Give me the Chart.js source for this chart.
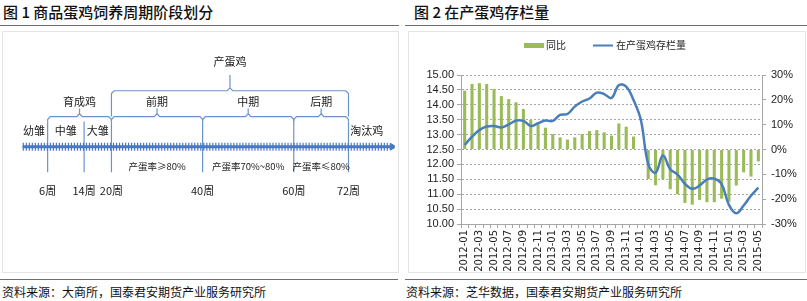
<!DOCTYPE html>
<html>
<head>
<meta charset="utf-8">
<script src="https://cdn.jsdelivr.net/npm/chart.js@4.4.1/dist/chart.umd.min.js"></script>
<style>
  body { margin: 0; width: 807px; height: 301px; position: relative; background: #fff; overflow: hidden; }
  .title { position: absolute; top: 4px; font: 500 15px/16px "Noto Sans CJK SC", sans-serif; color: #111; white-space: nowrap; }
  .rule { position: absolute; height: 0; border-top: 1.5px solid #6e6e6e; }
  .frame { position: absolute; border: 1px solid #e4e4e4; box-sizing: border-box; }
  .source { position: absolute; top: 285px; font: 12px/14px "Noto Sans CJK SC", sans-serif; color: #111; white-space: nowrap; }
  canvas { position: absolute; top: 30px; }
</style>
</head>
<body>
<div class="title" style="left:3px">图 1 商品蛋鸡饲养周期阶段划分</div>
<div class="title" style="left:414px">图 2 在产蛋鸡存栏量</div>
<div class="rule" style="left:0;width:399px;top:25px"></div>
<div class="rule" style="left:405px;width:402px;top:25px"></div>
<div class="frame" style="left:2px;top:31px;width:397px;height:242px"></div>
<div class="frame" style="left:408px;top:31px;width:398px;height:242px"></div>
<canvas id="cycleChart" width="400" height="245" style="left:0"></canvas>
<canvas id="stockChart" width="402" height="245" style="left:405px"></canvas>
<div class="rule" style="left:0;width:398px;top:279px"></div>
<div class="rule" style="left:405px;width:402px;top:279px"></div>
<div class="source" style="left:2px">资料来源：大商所，国泰君安期货产业服务研究所</div>
<div class="source" style="left:406px">资料来源：芝华数据，国泰君安期货产业服务研究所</div>

<script>
// ---- FIG 1 : feeding cycle stages (weeks) ----
const weekMarks = [6, 14, 20, 40, 60, 72];
const weekLabels = ['6周', '14周', '20周', '40周', '60周', '72周'];

const stageNames = ['幼雏', '中雏', '大雏', '淘汰鸡'];
const stageFrom = [0, 6, 14, 72];
const stageTo = [6, 14, 20, 80];

const braceNames = ['育成鸡', '前期', '中期', '后期', '产蛋鸡'];
const braceFrom = [6, 20, 40, 60, 20];
const braceTo = [20, 40, 60, 72, 72];
const braceTier = [1, 1, 1, 1, 2];

const rateNames = ['产蛋率≥80%', '产蛋率70%~80%', '产蛋率≤80%'];
const rateFrom = [20, 40, 60];
const rateTo = [40, 60, 72];

// ---- FIG 2 : laying hen stock ----
const months = ['2012-01','2012-02','2012-03','2012-04','2012-05','2012-06','2012-07','2012-08','2012-09','2012-10','2012-11','2012-12',
  '2013-01','2013-02','2013-03','2013-04','2013-05','2013-06','2013-07','2013-08','2013-09','2013-10','2013-11','2013-12',
  '2014-01','2014-02','2014-03','2014-04','2014-05','2014-06','2014-07','2014-08','2014-09','2014-10','2014-11','2014-12',
  '2015-01','2015-02','2015-03','2015-04','2015-05'];
const stockValues = [12.65, 12.93, 13.15, 13.27, 13.29, 13.24, 13.34, 13.47, 13.46, 13.29, 13.38, 13.47,
  13.46, 13.66, 13.69, 13.94, 14.11, 14.21, 14.41, 14.36, 14.23, 14.66, 14.61, 14.16,
  13.49, 12.01, 11.72, 12.30, 11.84, 11.66, 11.35, 11.18, 11.29, 11.49, 11.52, 11.34,
  10.64, 10.36, 10.62, 10.95, 11.22];
const yoyValues = [23.7, 26.4, 26.7, 26.4, 24.4, 21.5, 20.3, 19.0, 16.3, 11.9, 10.1, 8.8,
  6.2, 4.9, 4.0, 4.9, 6.2, 7.4, 7.8, 6.9, 5.6, 10.5, 9.2, 5.2,
  null, -11.9, -14.4, -11.9, -16.0, -18.0, -21.5, -22.2, -20.3, -21.2, -21.2, -19.8,
  -21.0, -14.5, -9.2, -10.9, -4.8];
const leftTicks = [10, 15, 0.5];
const rightTicks = [-30, 30, 10];

// colours / layout
const AXIS_BLUE = '#4a78c0';
const BRACE_BLUE = '#6a93cc';
const GREEN = '#9bbb59';
const LINE_BLUE = '#4a7ebb';
const GRID = '#a6a6a6';
const TXT = '#1a1a1a';
const CJK = '"Noto Sans CJK SC", sans-serif';

// vertical levels of the diagram (1 unit ~ 10px, timeline at 0)
const LV = {
  tier1: 3.15, tier2: 5.85, tip1: 0.85, tip2: 1.65, leg1: 0.5, leg2: 2.7,
  lineTop: 2.65, lineBottom: -2.65,
  stageText: 1.7, tier1Text: 4.65, tier2Text: 8.85, rateText: -2.05, weekText: -4.65
};

function bracePoints(a, b, L, h, d) {
  const m = (a + b) / 2;
  return [
    {x: a, y: L - d}, {x: a, y: L - 0.3}, {x: a + 0.6, y: L},
    {x: m - 0.6, y: L}, {x: m, y: L + 0.3}, {x: m, y: L + h},
    {x: m, y: L + 0.3}, {x: m + 0.6, y: L},
    {x: b - 0.6, y: L}, {x: b, y: L - 0.3}, {x: b, y: L - d}
  ];
}

const cycleSets = [];
// timeline
cycleSets.push({type: 'line', data: [{x: 0.5, y: 0}, {x: 81.2, y: 0}], borderColor: AXIS_BLUE, borderWidth: 3, pointRadius: 0});
const tickPts = [];
for (let w = 0.66; w < 81; w += 0.66) tickPts.push({x: w, y: 0});
cycleSets.push({data: tickPts, pointStyle: 'line', rotation: 90, radius: 4, borderColor: AXIS_BLUE, borderWidth: 1.2});
cycleSets.push({data: [{x: 81.6, y: 0}], pointStyle: 'triangle', rotation: 90, radius: 4, backgroundColor: AXIS_BLUE, borderColor: AXIS_BLUE});
// week lines
weekMarks.forEach(w => {
  cycleSets.push({type: 'line', data: [{x: w, y: LV.lineTop}, {x: w, y: LV.lineBottom}], borderColor: BRACE_BLUE, borderWidth: 1.2, pointRadius: 0});
});
// braces
braceNames.forEach((n, i) => {
  const t2 = braceTier[i] === 2;
  cycleSets.push({
    type: 'line',
    data: bracePoints(braceFrom[i], braceTo[i], t2 ? LV.tier2 : LV.tier1, t2 ? LV.tip2 : LV.tip1, t2 ? LV.leg2 : LV.leg1),
    borderColor: BRACE_BLUE, borderWidth: 1.2, pointRadius: 0
  });
});

const cycleText = {
  id: 'cycleText',
  afterDatasetsDraw(chart) {
    const {ctx, scales: {x, y}} = chart;
    ctx.save();
    ctx.fillStyle = TXT;
    ctx.textAlign = 'center';
    ctx.textBaseline = 'middle';
    const put = (t, w, lv) => ctx.fillText(t, x.getPixelForValue(w), y.getPixelForValue(lv));
    ctx.font = '11px ' + CJK;
    stageNames.forEach((n, i) => put(n, (stageFrom[i] + stageTo[i]) / 2, LV.stageText));
    braceNames.forEach((n, i) => put(n, (braceFrom[i] + braceTo[i]) / 2, braceTier[i] === 2 ? LV.tier2Text : LV.tier1Text));
    weekLabels.forEach((n, i) => put(n, weekMarks[i], LV.weekText));
    ctx.font = '9.5px ' + CJK;
    rateNames.forEach((n, i) => put(n, (rateFrom[i] + rateTo[i]) / 2, LV.rateText));
    ctx.restore();
  }
};

new Chart(document.getElementById('cycleChart'), {
  type: 'scatter',
  data: {datasets: cycleSets},
  options: {
    responsive: false,
    animation: false,
    devicePixelRatio: 1,
    layout: {padding: 0},
    plugins: {legend: {display: false}, tooltip: {enabled: false}},
    scales: {
      x: {type: 'linear', display: false, min: -3.31, max: 82.16},
      y: {type: 'linear', display: false, min: -12.85, max: 11.65}
    }
  },
  plugins: [cycleText]
});

// custom legend for fig 2
const stockLegend = {
  id: 'stockLegend',
  afterDraw(chart) {
    const {ctx} = chart;
    const ds = chart.data.datasets;
    const bar = ds.find(d => d.type === 'bar');
    const line = ds.find(d => d.type === 'line');
    ctx.save();
    ctx.font = '10px ' + CJK;
    ctx.textBaseline = 'middle';
    ctx.fillStyle = bar.backgroundColor;
    ctx.fillRect(119, 13, 20, 5);
    ctx.fillStyle = '#222';
    ctx.fillText(bar.label, 141, 15.5);
    ctx.strokeStyle = line.borderColor;
    ctx.lineWidth = 2;
    ctx.beginPath();
    ctx.moveTo(188, 15.5);
    ctx.lineTo(208, 15.5);
    ctx.stroke();
    ctx.fillText(line.label, 211, 15.5);
    ctx.restore();
  }
};

const tickFont = {family: '"Liberation Sans", Arial, sans-serif', size: 11};

new Chart(document.getElementById('stockChart'), {
  type: 'bar',
  data: {
    labels: months,
    datasets: [
      {type: 'line', label: '在产蛋鸡存栏量', data: stockValues, yAxisID: 'y', borderColor: LINE_BLUE,
       borderWidth: 2.5, pointRadius: 0, tension: 0.4, order: 0},
      {type: 'bar', label: '同比', data: yoyValues, yAxisID: 'y1', backgroundColor: GREEN,
       barPercentage: 0.42, categoryPercentage: 1, order: 1}
    ]
  },
  options: {
    responsive: false,
    animation: false,
    devicePixelRatio: 1,
    layout: {padding: {top: 45, left: 0, right: 0, bottom: 0}},
    plugins: {legend: {display: false}, tooltip: {enabled: false}},
    scales: {
      x: {
        grid: {offset: true, drawOnChartArea: false, tickLength: 4, color: GRID},
        border: {color: GRID},
        ticks: {
          autoSkip: false, maxRotation: 90, minRotation: 90, padding: 2,
          font: {family: '"DejaVu Sans", sans-serif', size: 10}, color: '#222',
          callback: (v, i) => (i % 2 === 0 ? months[i] : '')
        },
        afterFit: s => { s.height = 51; }
      },
      y: {
        position: 'left', min: leftTicks[0], max: leftTicks[1],
        ticks: {stepSize: leftTicks[2], autoSkip: false, padding: 3, font: tickFont, color: '#222', callback: v => v.toFixed(2)},
        grid: {color: GRID, tickLength: 4},
        border: {color: GRID, dash: [2, 2]},
        afterFit: s => { s.width = 56; }
      },
      y1: {
        position: 'right', min: rightTicks[0], max: rightTicks[1],
        ticks: {stepSize: rightTicks[2], autoSkip: false, padding: 5, font: tickFont, color: '#222', callback: v => v + '%'},
        grid: {drawOnChartArea: false, tickLength: 4, color: GRID},
        border: {color: GRID},
        afterFit: s => { s.width = 45; }
      }
    }
  },
  plugins: [stockLegend]
});
</script>
</body>
</html>
